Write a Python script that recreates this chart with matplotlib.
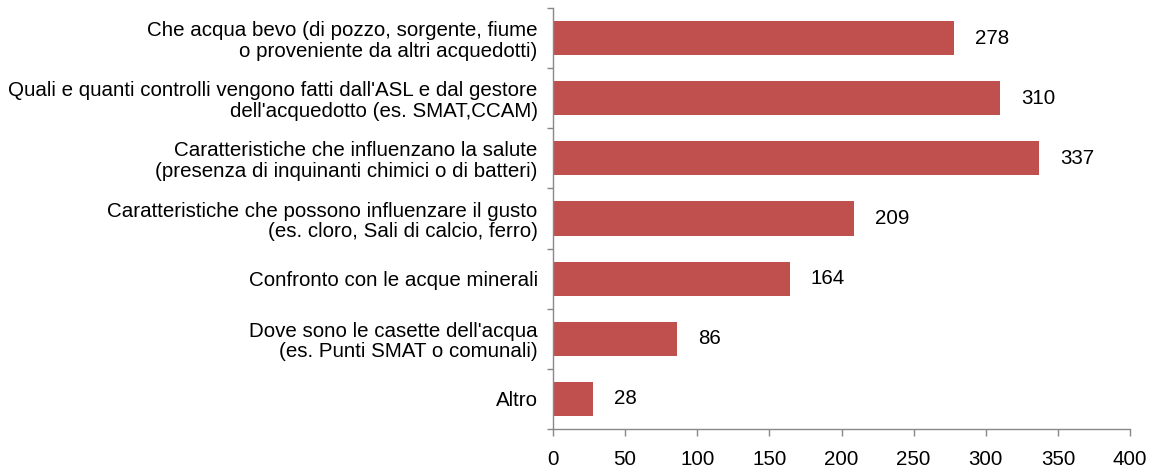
import matplotlib
matplotlib.use('Agg')
import matplotlib.pyplot as plt
import numpy as np

# dati (dall'alto verso il basso)
categories = [
    "Che acqua bevo (di pozzo, sorgente, fiume\no proveniente da altri acquedotti)",
    "Quali e quanti controlli vengono fatti dall'ASL e dal gestore\ndell'acquedotto (es. SMAT,CCAM)",
    "Caratteristiche che influenzano la salute\n(presenza di inquinanti chimici o di batteri)",
    "Caratteristiche che possono influenzare il gusto\n(es. cloro, Sali di calcio, ferro)",
    "Confronto con le acque minerali",
    "Dove sono le casette dell'acqua\n(es. Punti SMAT o comunali)",
    "Altro",
]
values = [278, 310, 337, 209, 164, 86, 28]
xticks = [0, 50, 100, 150, 200, 250, 300, 350, 400]

plt.rcParams['font.family'] = ['Liberation Sans', 'DejaVu Sans']
FS = 14.8

fig = plt.figure(figsize=(11.56, 4.72), dpi=100)
ax = fig.add_axes([553 / 1156, 1 - 429 / 472, 577 / 1156, 421 / 472])

n = len(categories)
ypos = np.arange(n)
ax.barh(ypos, values, height=0.57, color='#C0504D')

ax.set_ylim(n - 0.5, -0.5)
ax.set_xlim(0, 400)

# valori a destra delle barre
for y, v in zip(ypos, values):
    ax.annotate(str(v), xy=(v, y), xytext=(15, 0), textcoords='offset points',
                ha='left', va='center', fontsize=FS, color='black')

# asse y: etichette centrate, tacche ai confini delle categorie
ax.set_yticks(ypos)
ax.set_yticklabels(categories, fontsize=FS, ha='right', linespacing=1.1)
ax.tick_params(axis='y', which='major', length=0, pad=11)
ax.set_yticks(np.arange(n + 1) - 0.5, minor=True)
ax.tick_params(axis='y', which='minor', length=4, width=1, color='#888888', direction='out')

ax.set_xticks(xticks)
ax.set_xticklabels([str(t) for t in xticks], fontsize=FS)
ax.tick_params(axis='x', length=5, width=1, color='#888888', pad=10)

for s in ['top', 'right']:
    ax.spines[s].set_visible(False)
for s in ['left', 'bottom']:
    ax.spines[s].set_color('#888888')
    ax.spines[s].set_linewidth(1)

fig.savefig('out.png', dpi=100)
